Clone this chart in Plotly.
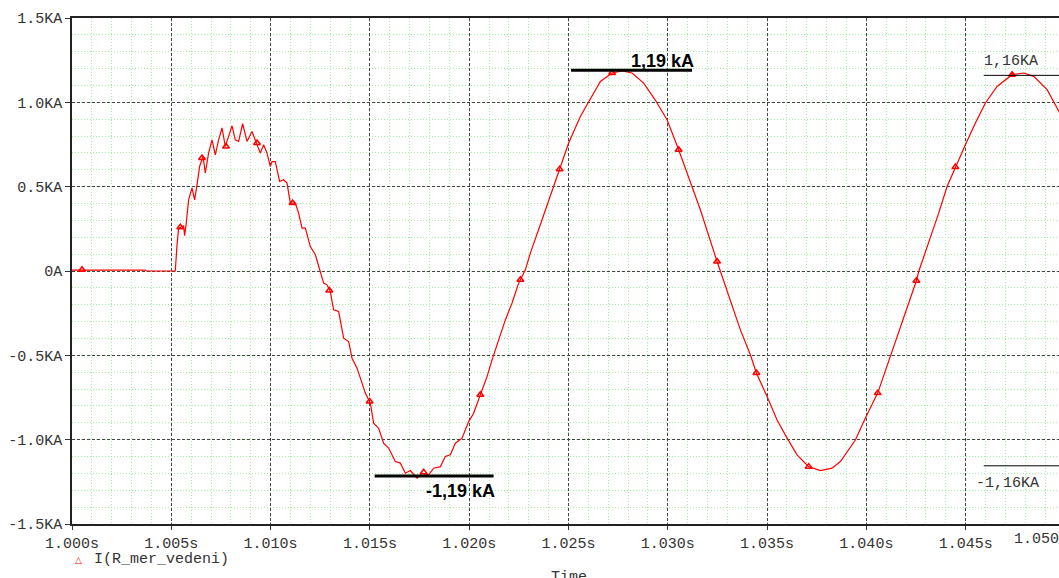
import plotly.graph_objects as go

# ---- waveform I(R_mer_vedeni): time offset after 1.000 s (ms) and current (kA)
t_ms = [0.0, 3.69, 3.74, 5.20, 5.288, 5.368, 5.620, 5.671, 5.756, 5.872, 6.043, 6.174,
        6.295, 6.426, 6.597, 6.713, 6.879, 7.050, 7.217, 7.383, 7.554, 7.720, 7.886,
        8.058, 8.224, 8.390, 8.592, 8.813, 9.065, 9.317, 9.483, 9.649, 9.820, 9.986,
        10.072, 10.238, 10.455, 10.656, 10.828, 10.994, 11.245, 11.412, 11.583, 11.749,
        12.001, 12.253, 12.504, 12.671, 12.842, 13.008, 13.174, 13.426, 13.678, 13.930,
        14.101, 14.353, 14.604, 14.771, 15.023, 15.189, 15.441, 15.692, 15.944, 16.281,
        16.534, 16.785, 17.037, 17.374, 17.626, 17.958, 18.210, 18.548, 18.800, 19.051,
        19.303, 19.641, 19.973, 20.225, 20.562, 20.899, 21.151, 21.484, 21.821, 22.159,
        22.491, 22.828, 23.080, 23.669, 24.254, 24.556, 25.009, 25.598, 26.016, 26.605,
        27.195, 27.698, 28.202, 28.786, 29.365, 29.964, 30.548, 31.138, 31.641, 32.482,
        33.066, 33.656, 34.159, 34.462, 35.000, 35.504, 36.008, 36.511, 37.096, 37.685,
        38.274, 38.692, 39.447, 39.951, 40.570, 41.210, 41.799, 42.519, 42.635, 43.138,
        43.642, 44.065, 44.483, 44.986, 45.490, 45.994, 46.583, 47.339, 47.923, 48.427,
        49.101, 49.721, 50.0]
i_ka = [0.005, 0.005, 0.0, 0.0, 0.155, 0.254, 0.268, 0.209, 0.286, 0.422, 0.493, 0.422,
        0.511, 0.620, 0.679, 0.582, 0.699, 0.778, 0.689, 0.778, 0.848, 0.738, 0.798,
        0.861, 0.778, 0.768, 0.873, 0.768, 0.827, 0.749, 0.699, 0.749, 0.699, 0.620,
        0.649, 0.649, 0.531, 0.541, 0.521, 0.403, 0.403, 0.343, 0.254, 0.254,
        0.145, 0.096, -0.003, -0.072, -0.082, -0.122, -0.230, -0.240, -0.398, -0.418,
        -0.517, -0.576, -0.665, -0.724, -0.784, -0.902, -0.932, -1.021, -1.050, -1.130,
        -1.139, -1.199, -1.183, -1.228, -1.199, -1.209, -1.169, -1.160, -1.100, -1.090,
        -1.021, -0.991, -0.893, -0.843, -0.734, -0.626, -0.527, -0.408, -0.290, -0.190,
        -0.072, 0.007, 0.106, 0.304, 0.501, 0.604, 0.759, 0.916, 1.005, 1.124,
        1.174, 1.187, 1.174, 1.114, 1.015, 0.897, 0.719, 0.521, 0.363, 0.056,
        -0.151, -0.349, -0.497, -0.605, -0.744, -0.883, -0.991, -1.090, -1.160, -1.183,
        -1.169, -1.130, -1.002, -0.872, -0.724, -0.507, -0.300, -0.058, -0.003, 0.165,
        0.343, 0.501, 0.616, 0.749, 0.877, 0.996, 1.094, 1.164, 1.174, 1.154,
        1.075, 0.946, 0.88]

# ---- trace symbol positions (ms, kA)
mark_ms = [0.504, 5.454, 6.547, 7.755, 9.317, 11.111, 12.958, 14.988, 17.707, 20.562,
           22.579, 24.556, 27.195, 30.548, 32.482, 34.462, 37.096, 40.570, 42.519,
           44.483, 47.339]
mark_ka = [0.007, 0.260, 0.670, 0.738, 0.759, 0.403, -0.116, -0.774, -1.193, -0.734,
           -0.052, 0.604, 1.174, 0.719, 0.056, -0.605, -1.160, -0.724, -0.058,
           0.616, 1.164]

# ---- axes
x_tick_vals = [1.000, 1.005, 1.010, 1.015, 1.020, 1.025, 1.030, 1.035, 1.040, 1.045]
x_tick_text = ["1.000s", "1.005s", "1.010s", "1.015s", "1.020s", "1.025s", "1.030s",
               "1.035s", "1.040s", "1.045s"]
y_tick_vals = [-1.5, -1.0, -0.5, 0.0, 0.5, 1.0, 1.5]
y_tick_text = ["-1.5KA", "-1.0KA", "-0.5KA", "0A", "0.5KA", "1.0KA", "1.5KA"]

# ---- peak annotations: [label, level kA, start ms, end ms, label ms, label kA]
peak_bold = [["1,19 kA", 1.19, 25.13, 31.22, 29.73, 1.247],
             ["-1,19 kA", -1.215, 15.24, 21.23, 19.55, -1.304]]
peak_thin = [["1,16KA", 1.16, 45.91, 50.5, 47.30, 1.241],
             ["-1,16KA", -1.155, 45.91, 50.5, 47.10, -1.262]]

t_s = [1.0 + m / 1000.0 for m in t_ms]
mark_s = [1.0 + m / 1000.0 for m in mark_ms]

MONO = "Liberation Mono"
TXT = "#333333"

fig = go.Figure()
fig.add_trace(go.Scatter(x=t_s, y=i_ka, mode="lines",
                         line=dict(color="#ff0000", width=1.2),
                         showlegend=False, hoverinfo="skip"))
fig.add_trace(go.Scatter(x=mark_s, y=mark_ka, mode="markers",
                         marker=dict(symbol="triangle-up-open", size=6, color="#ff0000",
                                     line=dict(width=1.5, color="#ff0000")),
                         name="I(R_mer_vedeni)", showlegend=False))

shapes = []
annotations = []
for lab, lvl, a, b, lx, ly in peak_bold:
    shapes.append(dict(type="line", xref="x", yref="y", x0=1 + a / 1000, x1=1 + b / 1000,
                       y0=lvl, y1=lvl, line=dict(color="black", width=3)))
    annotations.append(dict(x=1 + lx / 1000, y=ly, xref="x", yref="y", text="<b>%s</b>" % lab,
                            xanchor="center", yanchor="middle",
                            showarrow=False, font=dict(family="Liberation Sans", size=18,
                                                       color="black")))
for lab, lvl, a, b, lx, ly in peak_thin:
    shapes.append(dict(type="line", xref="x", yref="y", x0=1 + a / 1000, x1=1 + b / 1000,
                       y0=lvl, y1=lvl, line=dict(color="black", width=1)))
    annotations.append(dict(x=1 + lx / 1000, y=ly, xref="x", yref="y", text=lab,
                            xanchor="center", yanchor="middle",
                            showarrow=False, font=dict(family=MONO, size=15, color=TXT)))

# cut-off last x label, legend, axis title
annotations.append(dict(x=1.011, y=-0.01, xref="paper", yref="paper", text="1.050s",
                        xanchor="right", yanchor="top", showarrow=False,
                        font=dict(family=MONO, size=15, color=TXT)))
annotations.append(dict(x=0.0061, y=-0.0711, xref="paper", yref="paper", text="△",
                        xanchor="center", yanchor="middle",
                        showarrow=False, font=dict(family="DejaVu Sans", size=9, color="#ff0000")))
annotations.append(dict(x=0.0203, y=-0.0711, xref="paper", yref="paper", text="I(R_mer_vedeni)",
                        xanchor="left", yanchor="middle", showarrow=False,
                        font=dict(family=MONO, size=15, color=TXT)))
annotations.append(dict(x=0.504, y=-0.085, xref="paper", yref="paper", text="Time",
                        xanchor="center", yanchor="top", showarrow=False,
                        font=dict(family=MONO, size=15, color=TXT)))

fig.update_layout(
    width=1059, height=578,
    margin=dict(l=72, r=0, t=18, b=54),
    paper_bgcolor="white", plot_bgcolor="white",
    shapes=shapes, annotations=annotations,
    showlegend=False,
    xaxis=dict(range=[1.0, 1.0497], tickvals=x_tick_vals, ticktext=x_tick_text,
               showline=True, linecolor="#222222", linewidth=1.5, mirror=True,
               ticks="outside", ticklen=4, tickcolor="#333333",
               showgrid=True, gridcolor="#444444", gridwidth=1, griddash="3px,2px",
               zeroline=False,
               minor=dict(dtick=0.001, showgrid=True, gridcolor="#a6eea6",
                          griddash="1px,2px", gridwidth=1),
               tickfont=dict(family=MONO, size=15, color=TXT)),
    yaxis=dict(range=[-1.5, 1.5], tickvals=y_tick_vals, ticktext=y_tick_text,
               showline=True, linecolor="#222222", linewidth=1.5,
               ticks="outside", ticklen=5, tickcolor="#333333",
               showgrid=True, gridcolor="#444444", gridwidth=1, griddash="3px,2px",
               zeroline=False,
               minor=dict(dtick=0.1, showgrid=True, gridcolor="#a6eea6",
                          griddash="1px,2px", gridwidth=1),
               tickfont=dict(family=MONO, size=15, color=TXT)),
)

fig.write_html("out.html", config={"displayModeBar": False},
               post_script="document.body.style.margin='0';")
